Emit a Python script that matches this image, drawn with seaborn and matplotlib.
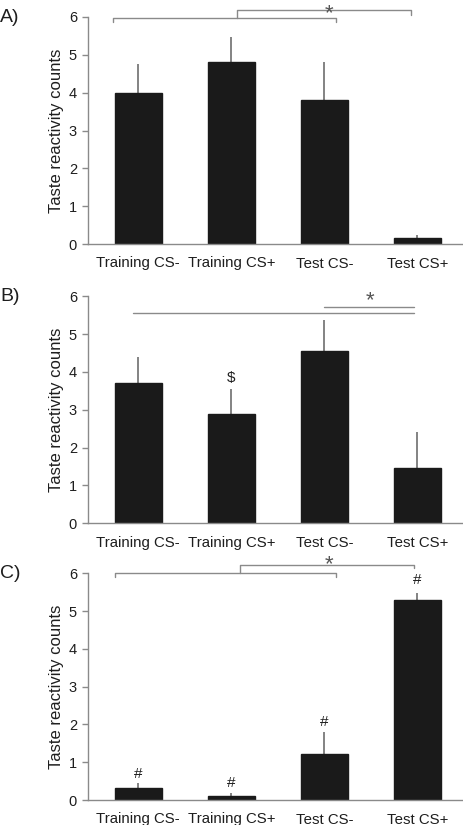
import matplotlib
matplotlib.use("Agg")
import matplotlib.pyplot as plt
import seaborn as sns
import pandas as pd
import numpy as np

categories = ["Training CS-", "Training CS+", "Test CS-", "Test CS+"]
panel_labels = ["A)", "B)", "C)"]
means_a = [4.0, 4.8, 3.8, 0.17]
sem_a = [0.75, 0.66, 1.01, 0.07]
means_b = [3.7, 2.9, 4.55, 1.45]
sem_b = [0.70, 0.66, 0.82, 0.96]
means_c = [0.31, 0.10, 1.21, 5.30]
sem_c = [0.13, 0.08, 0.58, 0.19]
yticks = [0, 1, 2, 3, 4, 5, 6]
ylabel = "Taste reactivity counts"

sns.set_theme(style="white")
plt.rcParams['font.family'] = ['Liberation Sans', 'DejaVu Sans']

fig = plt.figure(figsize=(4.64, 8.25), dpi=100)
spine_col = "#8a8a8a"
bar_col = "#1a1a1a"
err_col = "#7a7a7a"
txt_col = "#1e1e1e"

axes_rects = [
    [88/464, 1-244/825, 376/464, 227/825],
    [88/464, 1-523.3/825, 376/464, 227/825],
    [88/464, 1-800/825, 376/464, 226.7/825],
]
all_means = [means_a, means_b, means_c]
all_sems = [sem_a, sem_b, sem_c]

axes = []
for rect, means, sems, lab in zip(axes_rects, all_means, all_sems, panel_labels):
    ax = fig.add_axes(rect)
    df = pd.DataFrame({"cond": categories, "val": means})
    sns.barplot(data=df, x="cond", y="val", color=bar_col, saturation=1,
                width=0.5, errorbar=None, ax=ax, zorder=2)
    for p in ax.patches:
        p.set_facecolor(bar_col)
        p.set_edgecolor(bar_col)
    x = np.arange(len(categories))
    ax.errorbar(x, means, yerr=[np.zeros(len(sems)), sems], fmt="none",
                ecolor=err_col, elinewidth=1.3, capsize=0, zorder=1)
    ax.set_ylim(0, 6)
    ax.set_xlim(-0.54, 3.5)
    ax.set_yticks(yticks)
    ax.set_yticklabels([str(t) for t in yticks])
    ax.set_xlabel("")
    ax.set_ylabel(ylabel, fontsize=12, color=txt_col, labelpad=3)
    ax.tick_params(axis="y", left=True, length=4, width=1, color=spine_col,
                   labelsize=10.5, labelcolor=txt_col, pad=4)
    ax.tick_params(axis="x", bottom=False, labelsize=10.8, labelcolor=txt_col, pad=3)
    for s in ["top", "right"]:
        ax.spines[s].set_visible(False)
    for s in ["left", "bottom"]:
        ax.spines[s].set_color(spine_col)
        ax.spines[s].set_linewidth(1)
    ax.text(-0.234, 1.0, lab, transform=ax.transAxes, fontsize=14,
            ha="left", va="center", color=txt_col)
    axes.append(ax)

line_kw = dict(color=spine_col, lw=1, clip_on=False)
star_kw = dict(fontsize=16, ha="center", va="center", color="#555555")

# Panel A brackets
ax = axes[0]
ax.plot([-0.27, -0.27, 2.12, 2.12], [5.88, 5.98, 5.98, 5.88], **line_kw)
ax.plot([1.06, 1.06, 2.93, 2.93], [5.98, 6.19, 6.19, 6.06], **line_kw)
ax.text(2.05, 6.08, "*", **star_kw)

# Panel B lines
ax = axes[1]
ax.plot([-0.06, 2.96], [5.55, 5.55], **line_kw)
ax.plot([2.0, 2.96], [5.73, 5.73], **line_kw)
ax.text(2.49, 5.88, "*", **star_kw)
ax.text(1, 3.83, "$", fontsize=11, ha="center", va="center", color=txt_col)

# Panel C brackets
ax = axes[2]
ax.plot([-0.25, -0.25, 2.13, 2.13], [5.91, 6.0, 6.0, 5.91], **line_kw)
ax.plot([1.09, 1.09, 2.96, 2.96], [6.0, 6.22, 6.22, 6.13], **line_kw)
ax.text(2.05, 6.24, "*", **star_kw)
hash_y = [0.69, 0.46, 2.07, 5.81]
for i, hy in enumerate(hash_y):
    ax.text(i, hy, "#", fontsize=11, ha="center", va="center", color=txt_col)

fig.savefig("out.png", dpi=100)
